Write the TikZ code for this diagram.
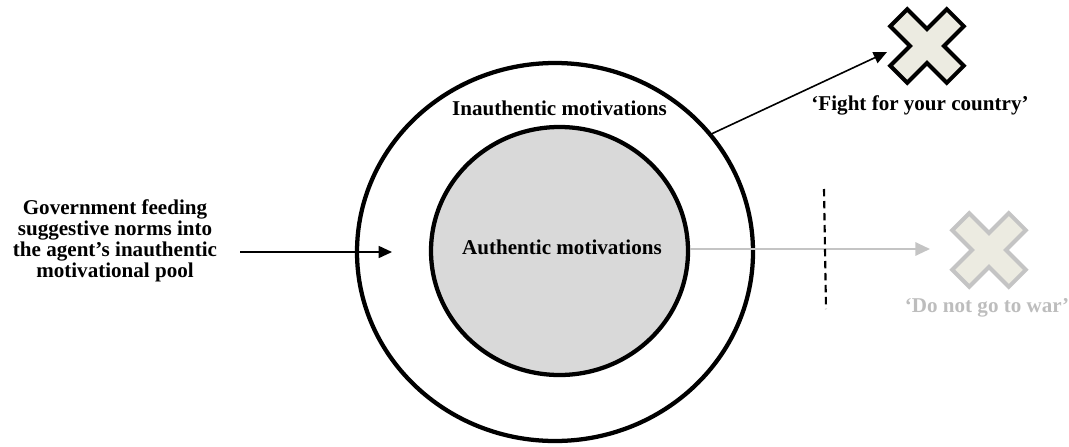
\documentclass[tikz,border=0pt]{standalone}
\usepackage{fontspec}
\setmainfont{Liberation Serif}
\usetikzlibrary{shapes.geometric,arrows.meta}
\definecolor{pool}{HTML}{D9D9D9}
\definecolor{crossfill}{HTML}{ECEBE1}
\definecolor{faded}{HTML}{C4C4C4}
\definecolor{fadedtext}{HTML}{BDBDBD}
\tikzset{
  ring/.style={ellipse, draw=black, line width=3.2pt, inner sep=0pt},
  label/.style={font=\fontsize{15.8}{15.6}\selectfont\bfseries, align=center, inner sep=0pt},
  feed/.style={line width=1.2pt, -{Triangle[length=10pt,width=9pt]}},
  ghost/.style={line width=1.5pt, draw=faded, -{Triangle[length=11pt,width=10pt]}},
  cut/.style={line width=1.6pt, dash pattern=on 5.5pt off 3.5pt},
  crossshape/.style={line width=3pt, line join=miter, fill=crossfill},
}
% a cross mark drawn as a plus sign turned by 45 degrees
\newcommand{\crossmark}[2]{%
  \begin{scope}[shift={#1}, rotate=45]
    \draw[crossshape, draw=#2] (12,40) -- (12,12) -- (40,12) -- (40,-12) -- (12,-12) -- (12,-40)
      -- (-12,-40) -- (-12,-12) -- (-40,-12) -- (-40,12) -- (-12,12) -- (-12,40) -- cycle;
  \end{scope}}
\begin{document}
\begin{tikzpicture}[x=0.75pt,y=-0.75pt]
\useasboundingbox (0,0) rectangle (1069,446);

% the two motivational pools
\node[ring, minimum width=297pt, minimum height=283.5pt] (outer) at (555,252) {};
\node[ring, fill=pool, minimum width=192.75pt, minimum height=186pt] (inner) at (559.5,251) {};
\node[label] (inauth) at (559.5,108) {Inauthentic motivations};
\node[label] (auth) at (562,247) {Authentic motivations};

% incoming government influence
\node[label] (gov) at (115,241) {Government feeding\\suggestive norms into\\the agent’s inauthentic\\motivational pool};
\coordinate (feedstart) at (240,252);
\coordinate (feedend) at (392,252);
\draw[feed] (feedstart) -- (feedend);

% resulting command
\coordinate (fightx) at (927,46);
\coordinate (fighttip) at (887,52);
\crossmark{(fightx)}{black}
\draw[feed] (outer.37) -- (fighttip);
\node[label] (fight) at (920,105) {‘Fight for your country’};

% blocked authentic response
\coordinate (warx) at (989,250);
\coordinate (wartip) at (930,249);
\coordinate (cuttop) at (824,189);
\coordinate (cutbottom) at (826,309);
\draw[ghost] (inner.east |- 0,249) -- (wartip);
\draw[cut] (cuttop) -- (cutbottom);
\crossmark{(warx)}{faded}
\node[label, text=fadedtext] (war) at (987,308) {‘Do not go to war’};
\end{tikzpicture}
\end{document}
